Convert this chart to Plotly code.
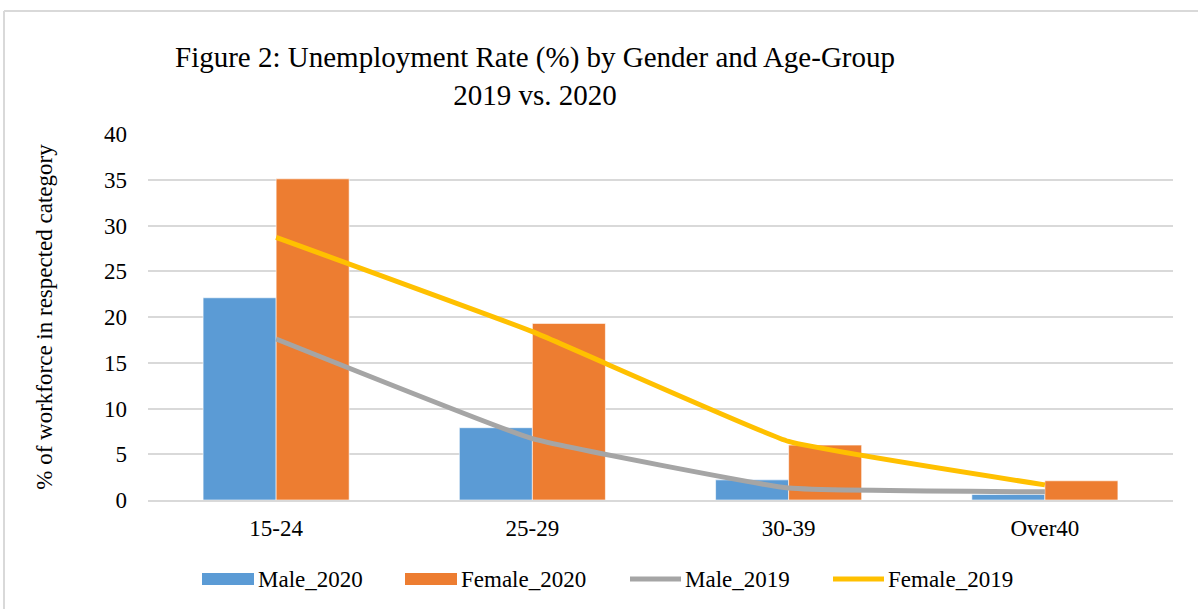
import plotly.graph_objects as go

categories = ["15-24", "25-29", "30-39", "Over40"]
male_2020 = [22.1, 7.9, 2.2, 0.6]
female_2020 = [35.1, 19.3, 6.0, 2.1]
male_2019 = [17.6, 6.7, 1.3, 0.9]
female_2019 = [28.7, 18.4, 6.4, 1.65]
y_ticks = [0, 5, 10, 15, 20, 25, 30, 35, 40]

FONT = "Liberation Serif, Times New Roman, serif"
W, H = 1198, 609
L, R, T, B = 148, 25, 134, 109

bar_series = [("Male_2020", male_2020, "#5B9BD5"), ("Female_2020", female_2020, "#ED7D31")]
line_series = [("Male_2019", male_2019, "#A5A5A5"), ("Female_2019", female_2019, "#FFC000")]

fig = go.Figure()
for name, vals, col in bar_series:
    fig.add_trace(go.Bar(x=categories, y=vals, name=name, marker_color=col,
                         marker_line=dict(color="rgba(255,255,255,0.6)", width=1),
                         showlegend=False))
for name, vals, col in line_series:
    fig.add_trace(go.Scatter(x=categories, y=vals, name=name, mode="lines",
                             line=dict(color=col, width=5, shape="spline", smoothing=0.3),
                             showlegend=False))

pw = W - L - R
ph = H - T - B
def px_x(p):
    return (p - L) / pw
def px_y(p):
    return (H - B - p) / ph

shapes = []
annotations = []
# outer frame (top and left edges visible)
shapes.append(dict(type="line", xref="paper", yref="paper", x0=px_x(4), x1=px_x(1250),
                   y0=px_y(11), y1=px_y(11), line=dict(color="#D9D9D9", width=2)))
shapes.append(dict(type="line", xref="paper", yref="paper", x0=px_x(4), x1=px_x(4),
                   y0=px_y(11), y1=px_y(650), line=dict(color="#D9D9D9", width=2)))

# manual legend
legend_items = [(n, c, "bar") for n, _, c in bar_series] + [(n, c, "line") for n, _, c in line_series]
legend_x = [202, 405, 627, 830]
ly = 579
for (name, col, kind), x0 in zip(legend_items, legend_x):
    if kind == "bar":
        shapes.append(dict(type="rect", xref="paper", yref="paper", x0=px_x(x0), x1=px_x(x0 + 52),
                           y0=px_y(ly + 6), y1=px_y(ly - 6), fillcolor=col, line=dict(width=0)))
        tx = x0 + 54
    else:
        shapes.append(dict(type="line", xref="paper", yref="paper", x0=px_x(x0 + 3), x1=px_x(x0 + 54),
                           y0=px_y(ly), y1=px_y(ly), line=dict(color=col, width=5)))
        tx = x0 + 56
    annotations.append(dict(text=name, xref="paper", yref="paper", x=px_x(tx), y=px_y(ly),
                            xanchor="left", yanchor="middle", showarrow=False,
                            font=dict(family=FONT, size=23, color="#000000")))

fig.update_layout(
    width=W, height=H,
    margin=dict(l=L, r=R, t=T, b=B),
    paper_bgcolor="white", plot_bgcolor="white",
    barmode="group", bargap=0.43, bargroupgap=0,
    title=dict(text="Figure 2: Unemployment Rate (%) by Gender and Age-Group<br>2019 vs. 2020",
               x=535 / W, xanchor="center", y=1 - 67 / H, yanchor="top",
               font=dict(family=FONT, size=29, color="#000000")),
    font=dict(family=FONT, size=23, color="#000000"),
    shapes=shapes, annotations=annotations,
    showlegend=False,
)
fig.update_xaxes(showgrid=False, showline=True, linecolor="#D9D9D9", linewidth=1.5,
                 ticks="", ticklabelstandoff=7, tickfont=dict(family=FONT, size=23))
fig.update_yaxes(range=[0, 40], tickvals=y_ticks, showgrid=True, gridcolor="#D9D9D9", gridwidth=1.5,
                 zeroline=False, ticks="", ticklabelstandoff=20,
                 tickfont=dict(family=FONT, size=23),
                 title=dict(text="% of workforce in respected category", standoff=44,
                            font=dict(family=FONT, size=23)))

fig.write_html("out.html", config={"displayModeBar": False},
               post_script="document.body.style.margin='0';")
